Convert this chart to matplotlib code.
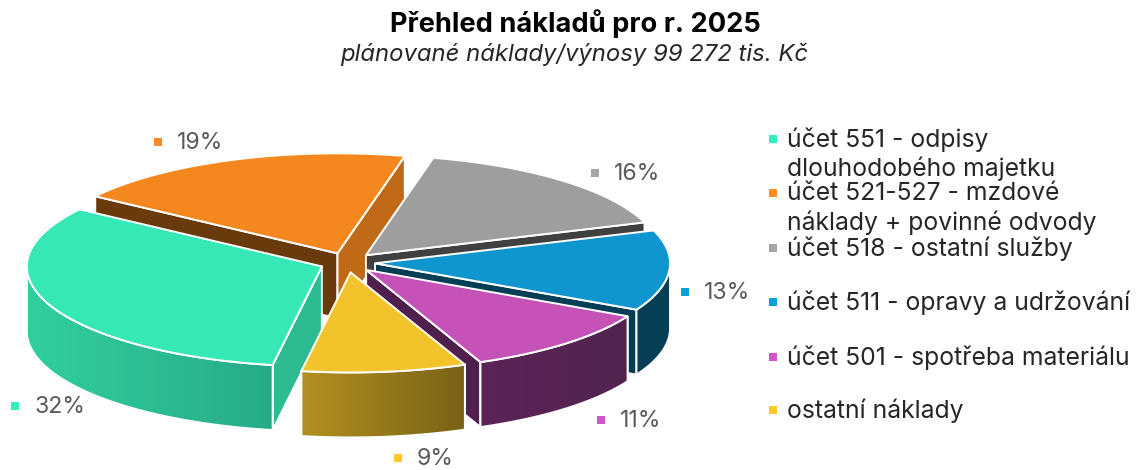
import numpy as np
import matplotlib
matplotlib.use("Agg")
import matplotlib.pyplot as plt
from matplotlib.patches import Polygon
from matplotlib.colors import LinearSegmentedColormap

labels = ["účet 551 - odpisy\ndlouhodobého majetku", "účet 521-527 - mzdové\nnáklady + povinné odvody",
          "účet 518 - ostatní služby", "účet 511 - opravy a udržování",
          "účet 501 - spotřeba materiálu", "ostatní náklady"]
values = [32, 19, 16, 13, 11, 9]

top_colors = ["#36E8B6", "#F4871E", "#9E9E9E", "#0F96CE", "#C552B7", "#F3C32B"]
legend_colors = ["#36EFC0", "#FF8C26", "#A5A5A5", "#0F9ED5", "#D155C5", "#FFC82C"]
start_face = ["#2DBB92", "#693A0C", "#404040", "#063F55", "#4F1F4D", "#7A6216"]
end_face = ["#2DBB92", "#C06A18", "#404040", "#063F55", "#4F1F4D", "#7A6216"]
rim_left = ["#31CFA0", "#C06A18", "#404040", "#063F55", "#5C2458", "#B39020"]
rim_right = ["#27AB87", "#C06A18", "#404040", "#063F55", "#52234E", "#7A6216"]

# label and legend placement, figure pixels
pct_pos = [(34, 407), (177, 143), (614, 174), (704, 293), (620, 421), (417, 459)]
legend_y = [139, 193, 248, 302, 357, 410]

cx, cy = 347.4, 262.6
rx, ry = 295, 100
ex, ey = 27.7, 9.9
depth = 65
first_angle = 189.6

plt.rcParams["font.family"] = ["Inter", "DejaVu Sans"]
fig = plt.figure(figsize=(11.36, 4.70), dpi=100)
ax = fig.add_axes([0, 0, 1, 1])


def draw_face(pts, c1, c2=None):
    poly = Polygon(pts, closed=True, fc=c1, ec="white", lw=1.4, zorder=2, joinstyle="round")
    ax.add_patch(poly)
    if c2 is not None and c2 != c1:
        xs = pts[:, 0]
        cmap = LinearSegmentedColormap.from_list("rim", [c1, c2])
        im = ax.imshow(np.linspace(0, 1, 256).reshape(1, -1), cmap=cmap, aspect="auto",
                       extent=(xs.min(), xs.max(), pts[:, 1].max(), pts[:, 1].min()), zorder=2)
        im.set_clip_path(poly)
        ax.add_patch(Polygon(pts, closed=True, fc="none", ec="white", lw=1.4, zorder=2))


edges = first_angle + np.cumsum([0] + values) * 3.6
for i in [1, 2, 3, 4, 0, 5]:
    a, b = edges[i], edges[i + 1]
    mid = np.radians((a + b) / 2)
    ax_x = cx + ex * np.sin(mid)
    ax_y = cy - ey * np.cos(mid)
    t = np.radians(np.linspace(a, b, 240))
    rim_x = ax_x + rx * np.sin(t)
    rim_y = ax_y - ry * np.cos(t)

    # cut faces, only those turned towards the viewer
    if np.sin(t[0]) < 0:
        draw_face(np.array([[ax_x, ax_y], [rim_x[0], rim_y[0]], [rim_x[0], rim_y[0] + depth],
                            [ax_x, ax_y + depth]]), start_face[i])
    if np.sin(t[-1]) > 0:
        draw_face(np.array([[ax_x, ax_y], [rim_x[-1], rim_y[-1]], [rim_x[-1], rim_y[-1] + depth],
                            [ax_x, ax_y + depth]]), end_face[i])

    # outer wall on the front half
    front = np.cos(t) < 0
    if front.any():
        fx, fy = rim_x[front], rim_y[front]
        wall = np.column_stack([np.r_[fx, fx[::-1]], np.r_[fy, fy[::-1] + depth]])
        draw_face(wall, rim_left[i], rim_right[i])

    top = np.column_stack([np.r_[ax_x, rim_x], np.r_[ax_y, rim_y]])
    ax.add_patch(Polygon(top, closed=True, fc=top_colors[i], ec="white", lw=1.4, zorder=2))

ax.set_xlim(0, 1136)
ax.set_ylim(470, 0)
ax.axis("off")

for v, c, (x, y) in zip(values, legend_colors, pct_pos):
    ax.text(x, y, f"{v}%", fontsize=16.6, color="#595959", va="center", ha="left", zorder=3)
    ax.scatter([x - 19], [y - 1], marker="s", s=28, color=c, lw=0, zorder=3)

for lab, c, y in zip(labels, legend_colors, legend_y):
    ax.scatter([773], [y], marker="s", s=28, color=c, lw=0, zorder=3)
    parts = lab.split("\n")
    for k, line in enumerate(parts):
        ax.text(787, y + 1 + k * 29, line, fontsize=17.8, color="#262626", va="center", ha="left", zorder=3)

ax.text(575, 24, "Přehled nákladů pro r. 2025", fontsize=19.6, fontweight="bold", color="black",
        ha="center", va="center")
ax.text(574, 55, "plánované náklady/výnosy 99 272 tis. Kč", fontsize=17.2, style="italic", color="#262626",
        ha="center", va="center")

fig.savefig("out.png", dpi=100)
